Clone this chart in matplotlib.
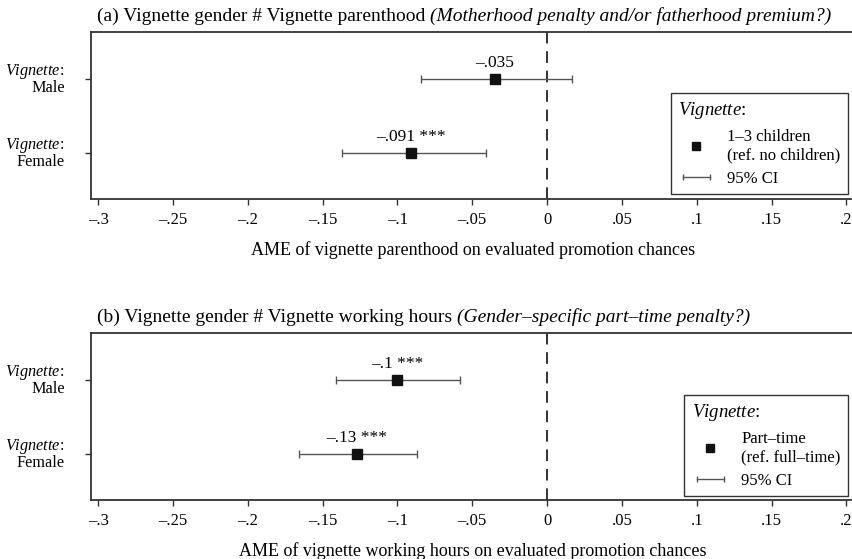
import matplotlib
matplotlib.use('Agg')
import matplotlib.pyplot as plt
from matplotlib.lines import Line2D
from matplotlib.legend_handler import HandlerLine2D

plt.rcParams['font.family'] = 'Liberation Serif'
plt.rcParams['mathtext.fontset'] = 'custom'
plt.rcParams['mathtext.rm'] = 'Liberation Serif'
plt.rcParams['mathtext.it'] = 'Liberation Serif:italic'

# rows (vignette gender)
rows = ['Male', 'Female']
row_labels = ['$\\it{Vignette}$:\nMale', '$\\it{Vignette}$:\nFemale']

# (a) parenthood AME
par_est = [-0.035, -0.091]
par_lo = [-0.084, -0.137]
par_hi = [0.017, -0.041]
par_txt = ['–.035', '–.091 ***']

# (b) working hours AME
hrs_est = [-0.100, -0.127]
hrs_lo = [-0.141, -0.166]
hrs_hi = [-0.058, -0.087]
hrs_txt = ['–.1 ***', '–.13 ***']

xticks = [-0.3, -0.25, -0.2, -0.15, -0.1, -0.05, 0, 0.05, 0.1, 0.15, 0.2]
xticklabels = ['–.3', '–.25', '–.2', '–.15', '–.1', '–.05', '0', '.05', '.1', '.15', '.2']

panels = [
    dict(est=par_est, lo=par_lo, hi=par_hi, txt=par_txt,
         title='(a) Vignette gender # Vignette parenthood ',
         subtitle='(Motherhood penalty and/or fatherhood premium?)',
         xlabel='AME of vignette parenthood on evaluated promotion chances',
         leglabel='1–3 children\n(ref. no children)',
         bottom=0.644, legtop=0.635),
    dict(est=hrs_est, lo=hrs_lo, hi=hrs_hi, txt=hrs_txt,
         title='(b) Vignette gender # Vignette working hours ',
         subtitle='(Gender–specific part–time penalty?)',
         xlabel='AME of vignette working hours on evaluated promotion chances',
         leglabel='Part–time\n(ref. full–time)',
         bottom=0.1055, legtop=0.629),
]

fig = plt.figure(figsize=(8.53, 5.59), dpi=100)

for p in panels:
    ax = fig.add_axes([0.1067, p['bottom'], 0.8957, 0.2987])
    ypos = list(range(1, len(rows) + 1))
    xerr = [[e - l for e, l in zip(p['est'], p['lo'])],
            [h - e for e, h in zip(p['est'], p['hi'])]]
    ax.errorbar(p['est'], ypos, xerr=xerr, fmt='none', ecolor='#555555',
                elinewidth=1.0, capsize=3, capthick=1.0, zorder=2)
    ax.plot(p['est'], ypos, 's', color='#111111', markersize=6.5, zorder=3)
    for e, y, t in zip(p['est'], ypos, p['txt']):
        ax.annotate(t, (e, y), xytext=(0, 6), textcoords='offset points',
                    ha='center', va='bottom', fontsize=12.5)
    ax.axvline(0, color='#333333', lw=1.4, dashes=(6, 4), zorder=1)

    ax.set_xlim(-0.3047, 0.2058)
    ax.set_ylim(2.62, 0.365)
    ax.set_xticks(xticks)
    ax.set_xticklabels(xticklabels, fontsize=12)
    ax.set_yticks(ypos)
    ax.set_yticklabels(row_labels, fontsize=11.7, ha='right', linespacing=0.98,
                       va='center')
    ax.tick_params(axis='both', direction='out', length=4, width=1.0, color='#333333')
    ax.tick_params(axis='y', pad=15)
    ax.tick_params(axis='x', pad=5)
    for s in ax.spines.values():
        s.set_linewidth(1.3)
        s.set_color('#333333')
    ax.set_xlabel(p['xlabel'], fontsize=13, labelpad=10)

    # title: plain part + italic part
    t1 = fig.text(0.1137, p['bottom'] + 0.2987 + 0.0196, p['title'],
                  fontsize=14, ha='left', va='baseline')
    ax.annotate(p['subtitle'], xy=(1, 0), xycoords=t1, xytext=(0, 0),
                textcoords='offset points', fontsize=14, style='italic',
                ha='left', va='bottom')

    h_pt = Line2D([], [], marker='s', ls='none', color='#111111', markersize=6)
    h_ci = Line2D([], [], color='#555555', lw=1.0, marker='|', markersize=5,
                  markeredgewidth=1.0)
    leg = ax.legend([h_pt, h_ci], [p['leglabel'], '95% CI'],
                    title='$\\it{Vignette}$:', loc='upper right',
                    bbox_to_anchor=(0.9908, p['legtop']), borderaxespad=0,
                    fontsize=12, title_fontsize=13.5, fancybox=False,
                    framealpha=1, edgecolor='#333333', handlelength=2.2,
                    handletextpad=0.75, labelspacing=0.45, borderpad=0.45,
                    alignment='left',
                    handler_map={h_pt: HandlerLine2D(numpoints=1),
                                 h_ci: HandlerLine2D(numpoints=2)})
    leg.get_frame().set_linewidth(1.0)

fig.savefig('out.png', dpi=100)
